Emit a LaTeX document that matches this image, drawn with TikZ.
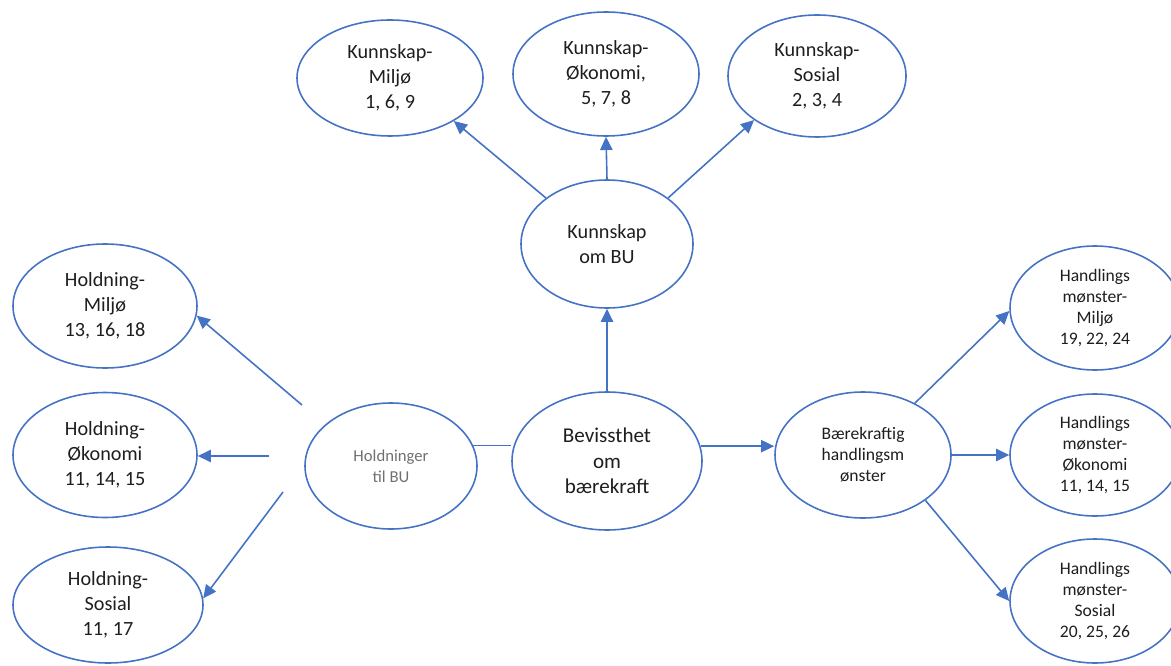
\documentclass[tikz,border=0pt]{standalone}
\usepackage{fontspec}
\setmainfont{Carlito}
\usetikzlibrary{shapes.geometric,arrows.meta}
\definecolor{blaa}{HTML}{4472C4}
\definecolor{tekst}{HTML}{1E1E1E}
\definecolor{graa}{HTML}{707070}
\begin{document}
\begin{tikzpicture}[
  boble/.style={ellipse,draw=blaa,line width=0.9pt,inner sep=0pt,align=center,
    text=tekst,font=\fontsize{11.5}{14.2}\selectfont},
  liten/.style={font=\fontsize{10}{11.9}\selectfont},
  pil/.style={draw=blaa,line width=0.9pt,-{Triangle[length=7.5pt,width=7pt]}},
  linje/.style={draw=blaa,line width=0.9pt}]
\useasboundingbox (0,0) rectangle (23.42,13.3);

% kunnskap
\node[boble,minimum width=3.72cm,minimum height=2.32cm] (km) at (7.80,11.74) {Kunnskap-\\Milj\o\\1, 6, 9};
\node[boble,minimum width=3.72cm,minimum height=2.48cm] (ko) at (12.12,11.82) {Kunnskap-\\\O konomi,\\5, 7, 8};
\node[boble,minimum width=3.56cm,minimum height=2.44cm] (ks) at (16.34,11.78) {Kunnskap-\\Sosial\\2, 3, 4};
\node[boble,minimum width=3.44cm,minimum height=2.56cm] (kbu) at (12.14,8.42) {Kunnskap\\om BU};

% midten
\node[boble,minimum width=3.80cm,minimum height=2.76cm,font=\fontsize{12}{14.4}\selectfont] (bev) at (12.14,4.08) {Bevissthet\\om\\b\ae rekraft};
\node[boble,minimum width=3.44cm,minimum height=2.52cm,text=graa,font=\fontsize{9.5}{12.2}\selectfont] (hold) at (7.82,3.98) {Holdninger\\til BU};
\node[boble,liten,minimum width=3.52cm,minimum height=2.52cm] (baer) at (17.26,4.20) {B\ae rekraftig\\handlingsm\\\o nster};

% holdning
\node[boble,minimum width=3.68cm,minimum height=2.48cm] (hm) at (2.10,7.18) {Holdning-\\Milj\o\\13, 16, 18};
\node[boble,minimum width=3.68cm,minimum height=2.50cm] (ho) at (2.10,4.20) {Holdning-\\\O konomi\\11, 14, 15};
\node[boble,minimum width=3.80cm,minimum height=2.32cm] (hs) at (2.16,1.20) {Holdning-\\Sosial\\11, 17};

% handlingsmønster
\node[boble,liten,minimum width=3.40cm,minimum height=2.48cm] (ham) at (21.90,7.14) {Handlings\\m\o nster-\\Milj\o\\19, 22, 24};
\node[boble,liten,minimum width=3.40cm,minimum height=2.44cm] (hao) at (21.90,4.20) {Handlings\\m\o nster-\\\O konomi\\11, 14, 15};
\node[boble,liten,minimum width=3.40cm,minimum height=2.48cm] (has) at (21.90,1.28) {Handlings\\m\o nster-\\Sosial\\20, 25, 26};

\coordinate (h1) at (6.04,5.20);
\coordinate (h2) at (5.38,4.18);
\coordinate (h3) at (5.66,3.46);

\draw[pil] (kbu.143) -- (km.-34);
\draw[pil] (kbu.north) -- (ko.south);
\draw[pil] (kbu.37) -- (ks.-145);
\draw[pil] (bev.north) -- (kbu.south);
\draw[linje] (hold.14) -- (hold.14 -| bev.west);
\draw[pil] (bev.9) -- (bev.9 -| baer.west);
\draw[pil] (h1) -- (hm.-6);
\draw[pil] (h2) -- (h2 -| ho.east);
\draw[pil] (h3) -- (hs.4);
\draw[pil] (baer.45) -- (ham.182);
\draw[pil] (baer.east) -- (hao.west);
\draw[pil] (baer.-36) -- (has.west);
\end{tikzpicture}
\end{document}
